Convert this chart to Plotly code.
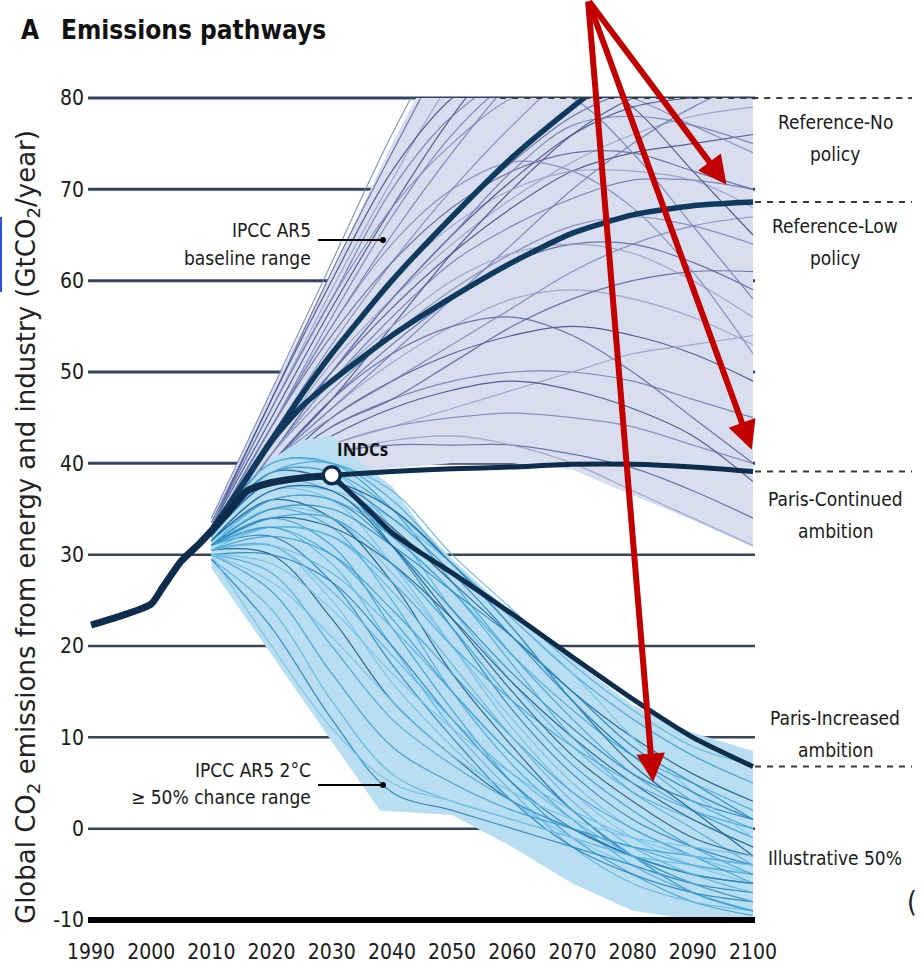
import plotly.graph_objects as go

# ---------------------------------------------------------------- data
YEARS = [2010, 2020, 2030, 2040, 2050, 2060, 2070, 2080, 2090, 2100]

# IPCC AR5 baseline scenarios (GtCO2/yr at YEARS)
baseline_runs = [
    [34.0, 48, 62, 76, 88, 97, 103, 107, 110, 112],
    [33.5, 47, 61, 74, 86, 95, 100, 104, 107, 110],
    [33.0, 46, 59, 71, 82, 90, 96, 100, 103, 105],
    [33.0, 45, 57, 68, 78, 86, 92, 96, 98, 100],
    [32.5, 44, 55, 65, 74, 82, 88, 92, 95, 97],
    [32.5, 43, 53, 62, 70, 77, 83, 87, 89, 90],
    [32.5, 43, 52, 60, 67, 73, 78, 81, 83, 84],
    [32.0, 42, 51, 58, 64, 69, 73, 76, 78, 79],
    [32.0, 42, 50, 57, 63, 68, 72, 74, 75, 76],
    [32.0, 41, 49, 56, 62, 66, 69, 71, 71, 70],
    [32.0, 41, 48, 54, 59, 63, 66, 67, 66, 64],
    [32.0, 40, 47, 53, 58, 62, 64, 64, 62, 59],
    [32.0, 40, 46, 51, 55, 58, 59, 58, 56, 53],
    [32.0, 39, 45, 49, 52, 54, 55, 54, 52, 49],
    [32.0, 39, 44, 47, 49, 50, 50, 49, 47, 45],
    [31.5, 38, 42, 44, 45, 45.5, 45, 44, 42, 40],
    [31.5, 37.5, 41, 42, 42, 42, 41, 39.5, 37, 34],
    [31.5, 38, 41, 42.5, 43, 42, 40, 37, 34, 31],
    [32.0, 40, 47, 55, 63, 70, 76, 80, 82, 82],
    [32.5, 44, 56, 67, 76, 82, 85, 84, 82, 80],
    [33.0, 46, 58, 68, 75, 80, 82, 80, 77, 74],
    [32.5, 44, 54, 62, 68, 72, 74, 74, 72, 70],
    [32.0, 42, 52, 60, 66, 70, 72, 72, 71, 68],
    [32.0, 41, 50, 58, 65, 71, 76, 79, 80, 80],
    [32.0, 40, 46, 52, 58, 64, 70, 75, 79, 82],
    [32.0, 40, 45, 49, 53, 57, 61, 64, 66, 67],
    [32.0, 39, 44, 47, 51, 55, 58, 60, 61, 61],
    [32.0, 41, 49, 55, 60, 63, 64, 63, 60, 56],
    [33.0, 47, 60, 72, 80, 84, 83, 79, 72, 65],
    [33.0, 46, 58, 70, 78, 82, 80, 74, 66, 58],
    [32.5, 44, 55, 64, 70, 73, 72, 68, 61, 52],
    [32.0, 40, 47, 52, 55, 56, 54, 50, 45, 40],
    [32.0, 38.5, 42, 44, 46, 48, 50, 52, 53, 54],
    [32.0, 39, 43, 46, 48, 49, 48, 46, 43, 38],
    [32.5, 42, 50, 58, 65, 72, 77, 78, 77, 75],
]

# IPCC AR5 2°C (>=50% chance) scenarios (GtCO2/yr at YEARS)
two_degree_runs = [
    [32.0, 40, 40, 35, 27, 19, 12, 6, 2, -1],
    [32.0, 39, 39, 33, 24, 16, 9, 4, 1, -2],
    [32.0, 38, 38, 31, 22, 13, 6, 1, -2, -4],
    [31.5, 37, 36, 29, 20, 11, 4, -1, -4, -6],
    [31.5, 36, 34, 27, 17, 9, 2, -3, -6, -8],
    [31.0, 35, 33, 25, 15, 7, 1, -4, -7, -9],
    [31.0, 34, 31, 22, 13, 5, -1, -5, -8, -9.5],
    [31.0, 33, 29, 20, 11, 4, -2, -6, -8, -9],
    [31.0, 32, 27, 18, 10, 3, -2, -5, -7, -8],
    [30.5, 31, 25, 16, 9, 3, -1, -4, -6, -7],
    [30.5, 30, 23, 14, 8, 3, 0, -3, -5, -6],
    [30.0, 28, 20, 12, 7, 3, 0, -2, -4, -5],
    [30.0, 26, 17, 9, 5, 2, 0, -2, -3, -4],
    [29.5, 24, 14, 6, 3, 1, -1, -3, -4, -5],
    [29.5, 22, 12, 4, 2, 0, -2, -4, -6, -7],
    [30.0, 20, 11, 5, 3, 1, -1, -3, -5, -6],
    [32.0, 39, 38, 33, 27, 21, 15, 10, 6, 3],
    [32.0, 38, 37, 32, 26, 19, 13, 8, 5, 2],
    [32.0, 39, 39, 35, 29, 23, 17, 12, 8, 5],
    [32.5, 40, 40, 37, 30, 24, 18, 13, 9, 7],
    [31.5, 36, 36, 31, 24, 17, 11, 6, 3, 1],
    [31.0, 35, 34, 28, 20, 12, 5, 0, -3, -5],
    [31.0, 34, 33, 29, 23, 16, 10, 5, 1, -2],
    [31.0, 33, 32, 27, 20, 14, 9, 5, 2, 0],
    [30.5, 32, 30, 24, 17, 10, 4, 0, -3, -6],
    [30.5, 31, 28, 22, 15, 8, 2, -3, -7, -9],
    [30.0, 30, 27, 20, 12, 5, 0, -3, -5, -6],
    [31.5, 37, 37, 34, 29, 23, 17, 10, 4, -1],
    [32.0, 38, 38, 35, 29, 22, 14, 7, 2, -3],
    [31.0, 36, 36, 32, 26, 18, 10, 4, 0, -4],
    [31.0, 34, 34, 29, 22, 14, 7, 2, -2, -5],
    [30.5, 33, 32, 26, 18, 10, 3, -2, -5, -7],
    [31.0, 35, 35, 31, 26, 21, 15, 9, 5, 1],
    [30.0, 29, 24, 17, 11, 6, 2, -1, -3, -4],
    [31.5, 37, 37, 31, 23, 15, 8, 3, -1, -3],
    [32.0, 39, 40, 36, 29, 22, 14, 8, 3, 0],
    [31.0, 33, 30, 23, 15, 8, 2, -3, -7, -9],
    [30.5, 31, 26, 19, 12, 6, 1, -3, -6, -8],
    [32.0, 38, 38, 34, 28, 21, 14, 8, 4, 1],
    [30.0, 27, 21, 14, 8, 4, 1, -1, -2, -3],
]

# envelopes of the two ranges (closed polygons)
baseline_env_years = [2010, 2015, 2020, 2025, 2030, 2035, 2040, 2044, 2100,
                      2100, 2090, 2080, 2070, 2060, 2050, 2040, 2030, 2020, 2010]
baseline_env_vals = [34, 41, 48, 54.5, 61, 68, 75, 80, 80,
                     30.8, 33.8, 36.5, 39.3, 40, 40, 39.5, 38.5, 36, 31.5]

two_deg_env_years = [2010, 2020, 2025, 2030, 2035, 2040, 2045, 2050, 2060, 2070, 2080, 2090, 2100,
                     2100, 2090, 2080, 2070, 2060, 2050, 2038, 2010]
two_deg_env_vals = [33, 40.5, 42.5, 43, 40, 37.5, 33, 29.5, 23.5, 18.5, 13.5, 10.5, 8.5,
                    -10, -10, -9, -6, -2, 1.5, 2, 28.5]

# headline pathways
hist_years = [1990, 1995, 2000, 2002, 2005, 2008, 2010, 2013, 2016, 2020, 2025, 2030]
hist_vals = [22.3, 23.3, 24.6, 26.5, 29.3, 31.2, 32.6, 34.8, 37.0, 37.9, 38.4, 38.7]

ref_years = [2010, 2015, 2020, 2025, 2030, 2040, 2050, 2060, 2070, 2080, 2090, 2100]
ref_no_policy = [32.6, 37.5, 42.5, 47.5, 52, 60, 67, 73.5, 79, 84, 88, 91]
ref_low_policy = [32.6, 37.5, 42.5, 46.2, 49, 54, 58.2, 62, 65.2, 67.2, 68.2, 68.6]

paris_cont_years = [2030, 2040, 2050, 2060, 2070, 2080, 2090, 2100]
paris_cont_vals = [38.7, 39.1, 39.4, 39.6, 39.9, 39.9, 39.6, 39.1]

paris_inc_years = [2030, 2035, 2040, 2045, 2050, 2060, 2070, 2080, 2090, 2100]
paris_inc_vals = [38.7, 35.6, 32.4, 30.1, 28.0, 23.5, 18.8, 14.2, 10.0, 6.8]

indc_year, indc_val = 2030, 38.7

x_ticks = list(range(1990, 2101, 10))
y_ticks = list(range(-10, 81, 10))

# end-of-century guide levels and their labels (value at label-block centre, lines)
end_levels = [80, 68.6, 39.1, 6.8]
end_labels = [
    (75.6, ["Reference-No", "policy"]),
    (64.2, ["Reference-Low", "policy"]),
    (34.3, ["Paris-Continued", "ambition"]),
    (10.4, ["Paris-Increased", "ambition"]),
    (-3.2, ["Illustrative 50%"]),
]

# ---------------------------------------------------------------- layout helpers
W, H = 922, 980
ML, MR, MT, MB = 88, 167, 98, 60
X_RANGE = [1989.5, 2100.33]
Y_RANGE = [-10, 80]
PLOT_W, PLOT_H = W - ML - MR, H - MT - MB


def xp(px):
    return (px - ML) / PLOT_W


def yp(px):
    return (H - MB - px) / PLOT_H


def yv(v):
    return (v - Y_RANGE[0]) / (Y_RANGE[1] - Y_RANGE[0])


def xv(yr):
    return (yr - X_RANGE[0]) / (X_RANGE[1] - X_RANGE[0])


NARROW = "Liberation Sans Narrow, DejaVu Sans Condensed, Arial Narrow, sans-serif"
NAVY = "#0e2c4c"
TXT = "#1a1a1a"

fig = go.Figure()

# baseline range
fig.add_trace(go.Scatter(x=baseline_env_years, y=baseline_env_vals, fill="toself",
                         fillcolor="#d9deef", line=dict(width=0), mode="lines",
                         hoverinfo="skip", showlegend=False))
base_cols = ["#7f8bbd", "#5e6ca3", "#98a2cb", "#44528a", "#7080b5"]
for i, run in enumerate(baseline_runs):
    fig.add_trace(go.Scatter(x=YEARS, y=run, mode="lines",
                             line=dict(color=base_cols[i % len(base_cols)], width=1.2,
                                       shape="spline", smoothing=1.0),
                             opacity=0.9, hoverinfo="skip", showlegend=False))

# 2°C range
fig.add_trace(go.Scatter(x=two_deg_env_years, y=two_deg_env_vals, fill="toself",
                         fillcolor="#b9def2", line=dict(width=0), mode="lines",
                         hoverinfo="skip", showlegend=False))
two_cols = ["#3a9fd2", "#5db6e2", "#2585bd", "#74c2e8", "#1d5f8c", "#49aad9"]
for i, run in enumerate(two_degree_runs):
    fig.add_trace(go.Scatter(x=YEARS, y=run, mode="lines",
                             line=dict(color=two_cols[i % len(two_cols)], width=1.2,
                                       shape="spline", smoothing=1.0),
                             opacity=0.9, hoverinfo="skip", showlegend=False))

# headline pathways
for xs, ys, w, c in [
    (ref_years, ref_no_policy, 5.5, "#0f3a5e"),
    (ref_years, ref_low_policy, 5.5, "#0f3a5e"),
    (paris_cont_years, paris_cont_vals, 5, NAVY),
    (paris_inc_years, paris_inc_vals, 5, NAVY),
    (hist_years, hist_vals, 7, NAVY),
]:
    fig.add_trace(go.Scatter(x=xs, y=ys, mode="lines",
                             line=dict(color=c, width=w, shape="spline", smoothing=0.6),
                             hoverinfo="skip", showlegend=False))

fig.add_trace(go.Scatter(x=[indc_year], y=[indc_val], mode="markers",
                         marker=dict(size=17, color="white", line=dict(color=NAVY, width=3.5)),
                         hoverinfo="skip", showlegend=False))

# ---------------------------------------------------------------- shapes
shapes = []
for v in y_ticks[1:]:
    thick = v >= 40
    shapes.append(dict(type="line", xref="paper", yref="paper", x0=0, x1=1,
                       y0=yv(v), y1=yv(v), layer="below",
                       line=dict(color="#34435f" if thick else "#3b4356",
                                 width=3 if thick else 2.5)))
shapes.append(dict(type="line", xref="paper", yref="paper", x0=0, x1=1,
                   y0=yv(-10), y1=yv(-10), layer="above",
                   line=dict(color="black", width=6)))

# dashed end-of-century guides
for v in end_levels:
    x0 = xv(2058) if v == 80 else 1.0
    shapes.append(dict(type="line", xref="paper", yref="paper", x0=x0, x1=xp(912),
                       y0=yv(v), y1=yv(v), layer="above",
                       line=dict(color="#3a3a3a", width=2, dash="6px,6px")))

# leader lines of the range labels
for ly in [240, 785]:
    shapes.append(dict(type="line", xref="paper", yref="paper", x0=xp(318), x1=xp(383),
                       y0=yp(ly), y1=yp(ly), line=dict(color="black", width=2)))
    shapes.append(dict(type="circle", xref="paper", yref="paper",
                       x0=xp(380), x1=xp(386), y0=yp(ly + 3), y1=yp(ly - 3),
                       fillcolor="black", line=dict(width=0)))

# blue frame edge at the far left
shapes.append(dict(type="line", xref="paper", yref="paper", x0=xp(1), x1=xp(1),
                   y0=yp(217), y1=yp(292), line=dict(color="#2d4fe0", width=2)))

# ---------------------------------------------------------------- annotations
ann = []
ann.append(dict(text="<b>A</b>", xref="paper", yref="paper", x=xp(19), y=yp(30),
                xanchor="left", yanchor="middle", showarrow=False,
                font=dict(family=NARROW, size=26, color="#111")))
ann.append(dict(text="<b>Emissions pathways</b>", xref="paper", yref="paper",
                x=xp(59), y=yp(30), xanchor="left", yanchor="middle", showarrow=False,
                font=dict(family=NARROW, size=26, color="#111")))

ann.append(dict(text="Global CO<sub>2</sub> emissions from energy and industry (GtCO<sub>2</sub>/year)",
                xref="paper", yref="paper", x=xp(27), y=yp(527), textangle=-90,
                xanchor="center", yanchor="middle", showarrow=False,
                font=dict(family="DejaVu Sans", size=26, color="#222")))

LINE_GAP = 32
for v, lines in end_labels:
    cy = H - MB - yv(v) * PLOT_H
    n = len(lines)
    for k, txt in enumerate(lines):
        ly = cy + (k - (n - 1) / 2) * LINE_GAP
        ann.append(dict(text=txt, xref="paper", yref="paper", x=xp(835), y=yp(ly),
                        xanchor="center", yanchor="middle", showarrow=False,
                        font=dict(family=NARROW, size=19, color=TXT)))

for lines, ys in [(["IPCC AR5", "baseline range"], [230, 258]),
                  (["IPCC AR5 2°C", "≥ 50% chance range"], [770, 797])]:
    for txt, ly in zip(lines, ys):
        ann.append(dict(text=txt, xref="paper", yref="paper", x=xp(313), y=yp(ly),
                        xanchor="right", yanchor="middle", showarrow=False,
                        font=dict(family=NARROW, size=19, color=TXT)))

ann.append(dict(text="<b>INDCs</b>", x=2035.1, y=indc_val + 2.8, xref="x", yref="y",
                showarrow=False, font=dict(family="Open Sans", size=17, color="#111")))

ann.append(dict(text="(", xref="paper", yref="paper", x=xp(905), y=yp(902),
                xanchor="left", yanchor="middle", showarrow=False,
                font=dict(family=NARROW, size=28, color="#222")))

# red callout arrows converging above the panel
tail_px = (588, -26)
for tip_year, tip_val in [(2095.6, 70.5), (2099.8, 41.5), (2083.4, 5.1)]:
    tip_px_x = ML + xv(tip_year) * PLOT_W
    tip_px_y = H - MB - yv(tip_val) * PLOT_H
    ann.append(dict(x=tip_year, y=tip_val, xref="x", yref="y", text="",
                    showarrow=True, arrowhead=2, arrowsize=0.95, arrowwidth=6,
                    arrowcolor="#c30000", standoff=0,
                    ax=tail_px[0] - tip_px_x, ay=tail_px[1] - tip_px_y,
                    axref="pixel", ayref="pixel"))

fig.update_layout(
    width=W, height=H,
    margin=dict(l=ML, r=MR, t=MT, b=MB, pad=0),
    paper_bgcolor="white", plot_bgcolor="white",
    shapes=shapes, annotations=ann, showlegend=False,
    xaxis=dict(range=X_RANGE, tickvals=x_ticks, ticktext=[str(t) for t in x_ticks],
               showgrid=False, zeroline=False, showline=False, ticks="",
               ticklabelstandoff=17,
               tickfont=dict(family=NARROW, size=21, color=TXT)),
    yaxis=dict(range=Y_RANGE, tickvals=y_ticks, ticktext=[str(t) for t in y_ticks],
               showgrid=False, zeroline=False, showline=False, ticks="",
               ticklabelstandoff=3,
               tickfont=dict(family=NARROW, size=21, color=TXT)),
)

fig.write_html("out.html")
